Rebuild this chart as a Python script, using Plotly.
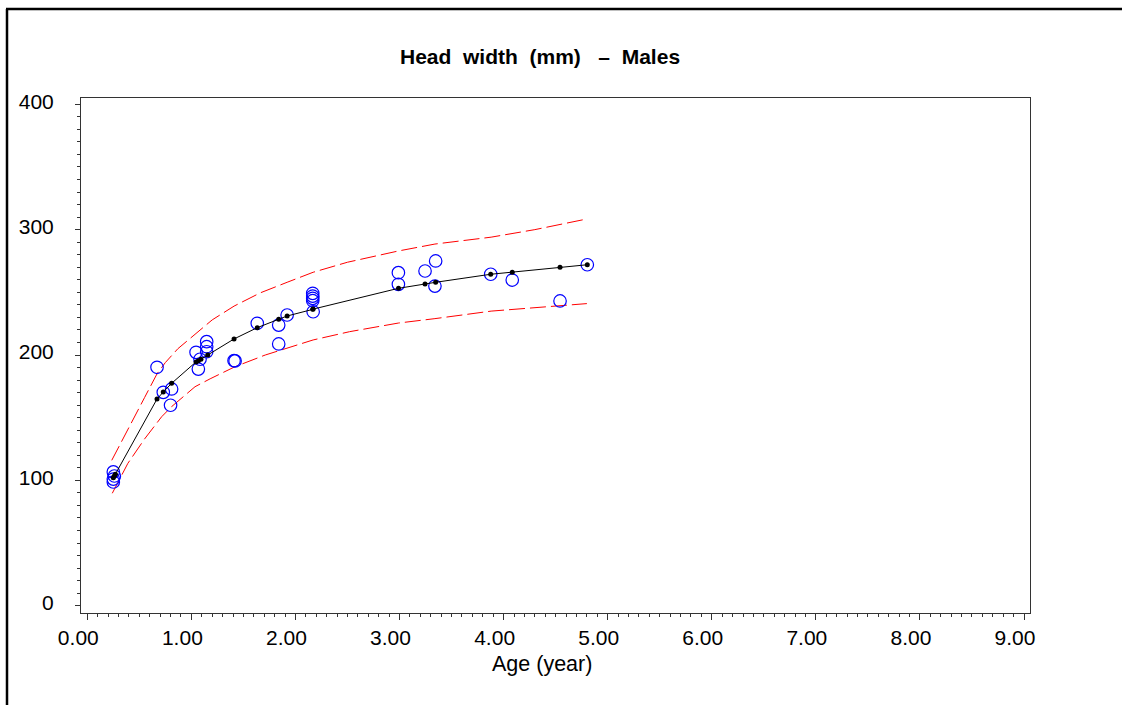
import plotly.graph_objects as go

# Observations (age in years, head width in mm)
obs_age = [0.25, 0.26, 0.25, 0.25, 0.67, 0.73, 0.81, 0.80, 1.045, 1.067, 1.083,
           1.147, 1.147, 1.147, 1.41, 1.42, 1.633, 1.839, 1.839, 1.92,
           2.166, 2.166, 2.166, 2.166, 2.17, 2.989, 2.989, 3.245, 3.347, 3.34,
           3.876, 4.083, 4.542, 4.804]
obs_val = [106.7, 103.5, 101.0, 98.7, 190.2, 170.2, 172.9, 159.9, 202.1, 188.8, 196.6,
           210.6, 206.6, 202.6, 195.5, 195.3, 225.3, 223.9, 208.8, 231.9,
           249.2, 247.0, 245.2, 243.3, 234.5, 265.7, 256.4, 267.0, 275.0, 255.0,
           264.4, 259.8, 243.1, 272.0]

# Fitted curve (black line with dots)
fit_age = [0.25, 0.26, 0.27, 0.67, 0.73, 0.81, 1.045, 1.067, 1.092, 1.157, 1.41,
           1.633, 1.839, 1.92, 2.166, 2.17, 2.99, 3.245, 3.347, 3.876, 4.083, 4.542, 4.804]
fit_val = [102.0, 103.5, 104.8, 164.9, 170.5, 177.4, 194.5, 195.5, 196.6, 200.0, 212.8,
           221.8, 228.5, 231.1, 236.4, 236.6, 253.2, 256.6, 258.0, 264.4, 266.0, 270.0, 272.0]

# Upper and lower bounds (red dashed)
up_age = [0.235, 0.39, 0.55, 0.67, 0.75, 0.87, 1.04, 1.2, 1.41, 1.66, 1.92, 2.17,
          2.5, 2.99, 3.34, 3.88, 4.3, 4.8]
up_val = [116, 140, 166, 185, 194, 205, 217, 228, 239, 249.5, 258, 266,
          274, 283, 288.5, 294, 300, 308.5]
lo_age = [0.24, 0.39, 0.55, 0.715, 0.81, 1.035, 1.18, 1.42, 1.71, 1.92, 2.17,
          2.52, 2.99, 3.34, 3.88, 4.8]
lo_val = [89.7, 113.6, 133, 150.8, 158.8, 174.7, 181, 190.7, 200, 205.6, 212,
          218.6, 225.5, 229, 235, 241]

x_ticks = [0, 1, 2, 3, 4, 5, 6, 7, 8, 9]
y_ticks = [0, 100, 200, 300, 400]

FONT = "Liberation Sans, Arial, sans-serif"

fig = go.Figure()
fig.add_trace(go.Scatter(x=up_age, y=up_val, mode="lines",
                         line=dict(color="#FF0000", width=1, dash="16px,5px")))
fig.add_trace(go.Scatter(x=lo_age, y=lo_val, mode="lines",
                         line=dict(color="#FF0000", width=1, dash="16px,5px")))
fig.add_trace(go.Scatter(x=obs_age, y=obs_val, mode="markers",
                         marker=dict(symbol="circle-open", size=12.5, color="#0000FF",
                                     line=dict(width=1.2, color="#0000FF"))))
fig.add_trace(go.Scatter(x=fit_age, y=fit_val, mode="lines+markers",
                         line=dict(color="black", width=1),
                         marker=dict(symbol="circle", size=5, color="black")))

L, R, T, B = 81, 92, 98, 92
W, H = 1122, 705
pw, ph = W - L - R, H - T - B

def px(x):
    return (x - L) / pw

def py(y):
    return (H - B - y) / ph

fig.update_layout(
    width=W, height=H,
    margin=dict(l=L, r=R, t=T, b=B),
    paper_bgcolor="white", plot_bgcolor="white",
    showlegend=False,
    font=dict(family=FONT, size=21, color="black"),
    shapes=[
        dict(type="line", xref="paper", yref="paper", x0=px(7), x1=px(7),
             y0=py(705), y1=py(9), line=dict(color="black", width=2.5)),
        dict(type="line", xref="paper", yref="paper", x0=px(6), x1=px(1122),
             y0=py(9), y1=py(9), line=dict(color="black", width=2.5)),
    ],
    annotations=[
        dict(text="<b>Head\u00a0 width\u00a0 (mm)\u00a0 \u00a0–\u00a0 Males</b>", xref="paper", yref="paper",
             x=px(540), y=py(57), xanchor="center", yanchor="middle", showarrow=False,
             font=dict(family=FONT, size=21, color="black")),
        dict(text="Age (year)", xref="paper", yref="paper",
             x=px(542), y=py(664), xanchor="center", yanchor="middle", showarrow=False,
             font=dict(family=FONT, size=21.5, color="black")),
    ],
)
fig.update_xaxes(range=[-0.0605, 9.0575], tickvals=x_ticks, tickformat=".2f",
                 showline=True, linecolor="#333333", linewidth=1, mirror=True,
                 ticks="outside", ticklen=6, tickcolor="#333333",
                 ticklabelshift=-9, ticklabelstandoff=0,
                 minor=dict(dtick=0.1, ticks="outside", ticklen=3, tickcolor="#333333"),
                 showgrid=False, zeroline=False)
fig.update_yaxes(range=[-5.8, 405.0], tickvals=y_ticks,
                 showline=True, linecolor="#333333", linewidth=1, mirror=True,
                 ticks="outside", ticklen=5, tickcolor="#333333",
                 ticklabelstandoff=17, ticklabelshift=-3,
                 minor=dict(dtick=10, ticks="outside", ticklen=3, tickcolor="#333333"),
                 showgrid=False, zeroline=False)

fig.write_html("out.html")
